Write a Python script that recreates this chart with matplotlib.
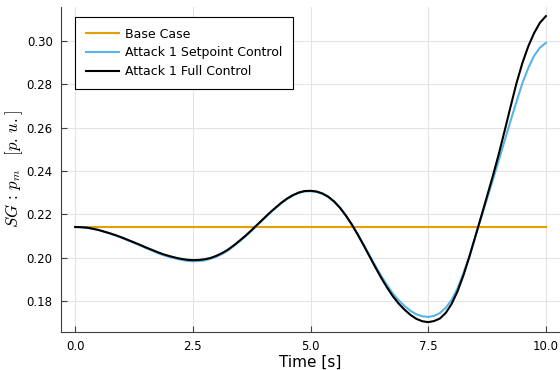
import matplotlib
matplotlib.use("Agg")
import matplotlib.pyplot as plt

# time axis [s]
time = [0.000, 0.125, 0.250, 0.375, 0.500, 0.625, 0.750, 0.875, 1.000, 1.125,
        1.250, 1.375, 1.500, 1.625, 1.750, 1.875, 2.000, 2.125, 2.250, 2.375,
        2.500, 2.625, 2.750, 2.875, 3.000, 3.125, 3.250, 3.375, 3.500, 3.625,
        3.750, 3.875, 4.000, 4.125, 4.250, 4.375, 4.500, 4.625, 4.750, 4.875,
        5.000, 5.125, 5.250, 5.375, 5.500, 5.625, 5.750, 5.875, 6.000, 6.125,
        6.250, 6.375, 6.500, 6.625, 6.750, 6.875, 7.000, 7.125, 7.250, 7.375,
        7.500, 7.625, 7.750, 7.875, 8.000, 8.125, 8.250, 8.375, 8.500, 8.625,
        8.750, 8.875, 9.000, 9.125, 9.250, 9.375, 9.500, 9.625, 9.750, 9.875,
        10.000]

base_case = [0.2142] * len(time)

setpoint_ctrl = [0.2142, 0.2141, 0.2139, 0.2134, 0.2128, 0.2120, 0.2111, 0.2102, 0.2091, 0.2080,
                 0.2069, 0.2057, 0.2045, 0.2034, 0.2022, 0.2012, 0.2004, 0.1997, 0.1991, 0.1986,
                 0.1984, 0.1985, 0.1988, 0.1995, 0.2005, 0.2018, 0.2034, 0.2055, 0.2077, 0.2100,
                 0.2125, 0.2152, 0.2178, 0.2204, 0.2228, 0.2251, 0.2271, 0.2287, 0.2299, 0.2306,
                 0.2307, 0.2304, 0.2295, 0.2281, 0.2259, 0.2231, 0.2195, 0.2155, 0.2110, 0.2062,
                 0.2013, 0.1964, 0.1917, 0.1874, 0.1835, 0.1803, 0.1777, 0.1755, 0.1739, 0.1730,
                 0.1727, 0.1732, 0.1745, 0.1770, 0.1806, 0.1860, 0.1930, 0.2008, 0.2098, 0.2185,
                 0.2272, 0.2360, 0.2450, 0.2541, 0.2632, 0.2720, 0.2805, 0.2875, 0.2932, 0.2970,
                 0.2992]

full_ctrl = [0.2142, 0.2141, 0.2139, 0.2134, 0.2128, 0.2120, 0.2112, 0.2103, 0.2093, 0.2082,
             0.2071, 0.2060, 0.2048, 0.2037, 0.2026, 0.2016, 0.2008, 0.2001, 0.1995, 0.1991,
             0.1989, 0.1990, 0.1993, 0.1999, 0.2009, 0.2022, 0.2038, 0.2058, 0.2080, 0.2103,
             0.2128, 0.2154, 0.2180, 0.2206, 0.2230, 0.2253, 0.2273, 0.2289, 0.2301, 0.2308,
             0.2309, 0.2306, 0.2297, 0.2282, 0.2260, 0.2231, 0.2195, 0.2154, 0.2108, 0.2059,
             0.2008, 0.1957, 0.1908, 0.1863, 0.1822, 0.1788, 0.1760, 0.1736, 0.1718, 0.1707,
             0.1703, 0.1708, 0.1720, 0.1746, 0.1788, 0.1846, 0.1920, 0.2005, 0.2097, 0.2190,
             0.2284, 0.2379, 0.2479, 0.2587, 0.2697, 0.2805, 0.2898, 0.2975, 0.3037, 0.3085,
             0.3115]

xticks = [0.0, 2.5, 5.0, 7.5, 10.0]
yticks = [0.18, 0.20, 0.22, 0.24, 0.26, 0.28, 0.30]

plt.rcParams['mathtext.fontset'] = 'cm'

fig = plt.figure(figsize=(5.6, 3.7), dpi=100)
ax = fig.add_axes([0.109, 0.103, 0.891, 0.878])

ax.plot(time, base_case, color='#E69F00', lw=1.5, label='Base Case')
ax.plot(time, setpoint_ctrl, color='#56B4E9', lw=1.5, label='Attack 1 Setpoint Control')
ax.plot(time, full_ctrl, color='black', lw=1.5, label='Attack 1 Full Control')

ax.set_xlim(-0.3, 10.3)
ax.set_ylim(0.1658, 0.3157)
ax.set_xticks(xticks)
ax.set_xticklabels([f'{t:.1f}' for t in xticks])
ax.set_yticks(yticks)
ax.set_yticklabels([f'{v:.2f}' for v in yticks])
ax.grid(True, color='#e4e4e4', lw=0.8)
ax.set_axisbelow(True)

for side in ['top', 'right']:
    ax.spines[side].set_visible(False)
for side in ['left', 'bottom']:
    ax.spines[side].set_color('#404040')
ax.tick_params(direction='in', length=4, color='#404040', labelsize=8.5, pad=6)

ax.set_xlabel('Time [s]', fontsize=11, labelpad=1)
ax.set_ylabel(r'$SG\,:\,p_m\quad [p.\,u.]$', fontsize=12, labelpad=1)

leg = ax.legend(loc='upper left', fontsize=9, frameon=True, fancybox=False,
                edgecolor='black', framealpha=1, borderpad=0.85, borderaxespad=0,
                handlelength=2.64, handletextpad=0.48, labelspacing=0.45,
                bbox_to_anchor=(0.028, 0.969))
leg.get_frame().set_linewidth(0.8)

fig.savefig('out.png', dpi=100)
